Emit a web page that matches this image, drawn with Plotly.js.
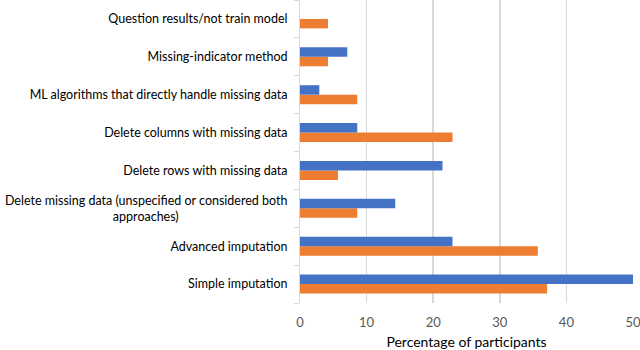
<!DOCTYPE html>
<html>
<head>
<meta charset="utf-8">
<script src="https://cdn.plot.ly/plotly-3.0.1.min.js"></script>
<style>html,body{margin:0;padding:0;background:#fff;}#chart{width:640px;height:350px;}</style>
</head>
<body>
<div id="chart"></div>
<script>
var categories = [
  "Simple imputation",
  "Advanced imputation",
  "Delete missing data (unspecified or considered both<br>approaches)" + "\u00A0".repeat(34),
  "Delete rows with missing data",
  "Delete columns with missing data",
  "ML algorithms that directly handle missing data",
  "Missing-indicator method",
  "Question results/not train model"
];
var blueValues = [50, 22.9, 14.3, 21.4, 8.6, 2.9, 7.1, 0];
var orangeValues = [37.1, 35.7, 8.6, 5.7, 22.9, 8.6, 4.2, 4.2];
var xTicks = [0, 10, 20, 30, 40, 50];

var traces = [
  {type: "bar", orientation: "h", y: categories, x: orangeValues, name: "Orange",
   marker: {color: "#ED7D31"}, hoverinfo: "x"},
  {type: "bar", orientation: "h", y: categories, x: blueValues, name: "Blue",
   marker: {color: "#4472C4"}, hoverinfo: "x"}
];

var layout = {
  width: 640, height: 350,
  margin: {l: 300, r: 7, t: 0, b: 47},
  paper_bgcolor: "#fff", plot_bgcolor: "#fff",
  showlegend: false,
  barmode: "group", bargap: 0.5, bargroupgap: 0,
  font: {family: "Lato, 'Open Sans', sans-serif", size: 13, color: "#000"},
  xaxis: {
    range: [0, 50], tickvals: xTicks, ticktext: xTicks.map(String),
    showgrid: true, gridcolor: "#d9d9d9", gridwidth: 1.5,
    zeroline: false, showline: false, ticks: "",
    ticklabeloverflow: "allow", ticklabelstandoff: 10,
    tickfont: {size: 13, color: "#595959"},
    title: {text: "Percentage of participants", font: {size: 14, color: "#000"}, standoff: 15},
    fixedrange: true
  },
  yaxis: {
    type: "category", categoryorder: "array", categoryarray: categories,
    showline: true, linecolor: "#d9d9d9", linewidth: 1,
    ticks: "outside", tickson: "boundaries", ticklen: 5, tickcolor: "#d9d9d9",
    ticklabelstandoff: 9,
    showgrid: false, zeroline: false,
    tickfont: {size: 12.5, color: "#000"},
    fixedrange: true
  }
};

Plotly.newPlot("chart", traces, layout, {displayModeBar: false, staticPlot: true});
</script>
</body>
</html>
